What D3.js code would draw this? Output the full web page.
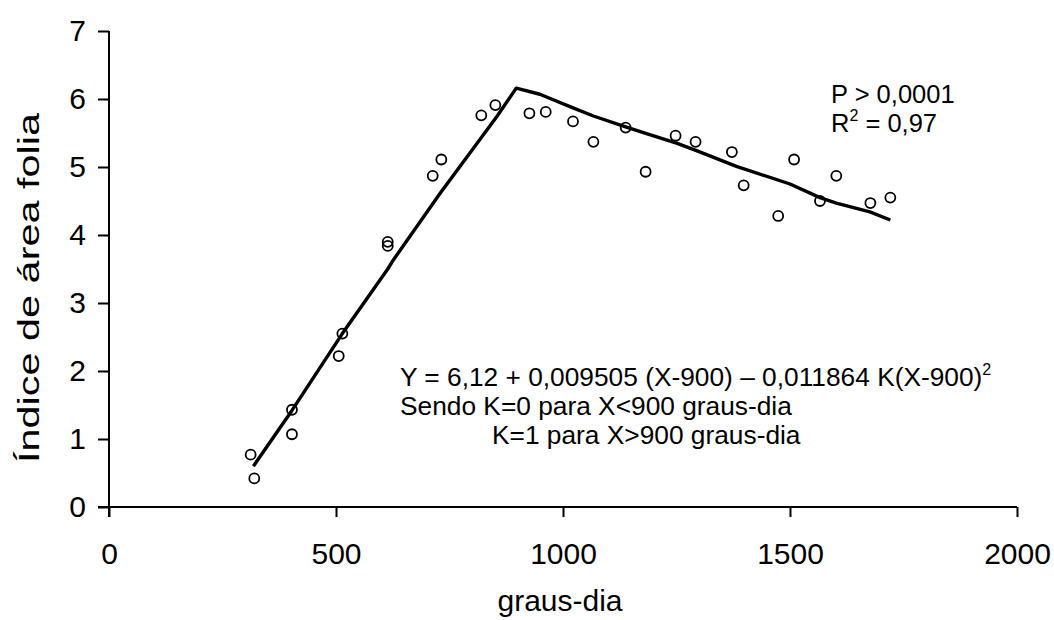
<!DOCTYPE html>
<html>
<head>
<meta charset="utf-8">
<script src="https://cdn.jsdelivr.net/npm/d3@7"></script>
<style>
  html, body { margin: 0; padding: 0; background: #fff; }
  svg { display: block; }
  text { font-family: "Liberation Sans", Arial, sans-serif; fill: #000; }
</style>
</head>
<body>
<div id="chart"></div>
<script>
// Observed points: graus-dia (X) and índice de área foliar (Y)
const obsX = [312, 320, 403, 403, 506, 514, 614, 614, 713, 732, 820, 851,
              926, 962, 1022, 1067, 1138, 1182, 1248, 1292, 1372, 1398,
              1474, 1509, 1566, 1602, 1677, 1721];
const obsY = [0.77, 0.42, 1.43, 1.07, 2.22, 2.55, 3.90, 3.84, 4.87, 5.11, 5.76, 5.91,
              5.79, 5.81, 5.67, 5.37, 5.58, 4.93, 5.46, 5.37, 5.22, 4.73,
              4.28, 5.11, 4.50, 4.87, 4.47, 4.55];
// Fitted line
const fitX = [318, 403, 514, 614, 626, 729, 854, 897, 949, 1022, 1067, 1138,
              1184, 1250, 1294, 1382, 1500, 1566, 1602, 1676, 1721];
const fitY = [0.60, 1.42, 2.55, 3.50, 3.63, 4.61, 5.74, 6.16, 6.07, 5.87, 5.75, 5.59,
              5.49, 5.35, 5.24, 5.01, 4.75, 4.55, 4.47, 4.34, 4.22];
const xTicks = [0, 500, 1000, 1500, 2000];
const yTicks = [0, 1, 2, 3, 4, 5, 6, 7];

const W = 1054, H = 620;
const svg = d3.select("#chart").append("svg").attr("width", W).attr("height", H);

const x = d3.scaleLinear().domain([0, 2000]).range([109, 1017]);
const y = d3.scaleLinear().domain([0, 7]).range([507, 31]);

// Y axis
const gy = svg.append("g").attr("transform", "translate(109,0)")
  .call(d3.axisLeft(y).tickValues(yTicks).tickSize(11).tickPadding(12).tickFormat(d3.format("d")));
gy.select(".domain").attr("stroke", "#000").attr("stroke-width", 2)
  .attr("d", `M0,${y(7)}V${y(0) + 10}`);
gy.selectAll(".tick line").attr("stroke", "#000").attr("stroke-width", 2);
gy.selectAll(".tick text").style("font-size", "30px").attr("font-family", "Liberation Sans, Arial, sans-serif");

// X axis
const gx = svg.append("g").attr("transform", "translate(0,507)")
  .call(d3.axisBottom(x).tickValues(xTicks).tickSize(10).tickPadding(26).tickFormat(d3.format("d")));
gx.select(".domain").attr("stroke", "#000").attr("stroke-width", 2)
  .attr("d", `M98,0H${x(2000)}`);
gx.selectAll(".tick line").attr("stroke", "#000").attr("stroke-width", 2);
gx.selectAll(".tick text").style("font-size", "30px").attr("font-family", "Liberation Sans, Arial, sans-serif");

// Axis titles
svg.append("text").attr("x", 560).attr("y", 611).attr("text-anchor", "middle")
  .style("font-size", "30px").text("graus-dia");
svg.append("text").attr("transform", "translate(39,288) rotate(-90)").attr("text-anchor", "middle")
  .attr("textLength", 350).attr("lengthAdjust", "spacingAndGlyphs")
  .style("font-size", "30px").text("Índice de área folia");

// Fitted line
const fitData = fitX.map((d, i) => [d, fitY[i]]);
svg.append("path").datum(fitData)
  .attr("fill", "none").attr("stroke", "#000").attr("stroke-width", 3.4)
  .attr("stroke-linejoin", "round")
  .attr("d", d3.line().x(d => x(d[0])).y(d => y(d[1])));

// Points
const ptData = obsX.map((d, i) => [d, obsY[i]]);
svg.append("g").selectAll("circle").data(ptData).join("circle")
  .attr("cx", d => x(d[0])).attr("cy", d => y(d[1])).attr("r", 5)
  .attr("fill", "none").attr("stroke", "#000").attr("stroke-width", 1.8);

// Annotations
const eq = svg.append("g").attr("transform", "translate(400,386)");
const t1 = eq.append("text").attr("x", 0).attr("y", 0).style("font-size", "26.3px");
t1.append("tspan").text("Y = 6,12 + 0,009505 (X-900) – 0,011864 K(X-900)");
t1.append("tspan").attr("dy", -11).style("font-size", "16px").text("2");
eq.append("text").attr("x", 0).attr("y", 29).style("font-size", "26.3px")
  .text("Sendo K=0 para X<900 graus-dia");
eq.append("text").attr("x", 92).attr("y", 58).style("font-size", "26.3px")
  .text("K=1 para X>900 graus-dia");

const st = svg.append("g").attr("transform", "translate(831,103)");
st.append("text").attr("x", 0).attr("y", 0).style("font-size", "25.5px").text("P > 0,0001");
const r2 = st.append("text").attr("x", 0).attr("y", 29).style("font-size", "25.5px");
r2.append("tspan").text("R");
r2.append("tspan").attr("dy", -11).style("font-size", "16px").text("2");
r2.append("tspan").attr("dy", 11).text(" = 0,97");
</script>
</body>
</html>
